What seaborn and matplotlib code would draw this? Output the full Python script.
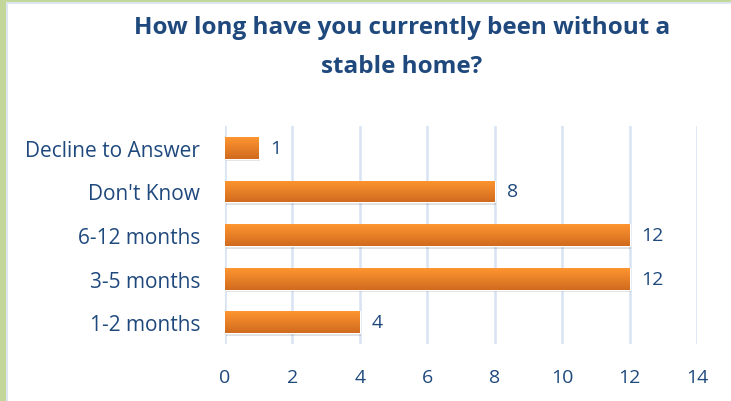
import numpy as np
import pandas as pd
import matplotlib
matplotlib.use("Agg")
import matplotlib.pyplot as plt
import seaborn as sns
from matplotlib.patches import Rectangle
from matplotlib.colors import LinearSegmentedColormap

categories = ["Decline to Answer", "Don't Know", "6-12 months", "3-5 months", "1-2 months"]
values = [1, 8, 12, 12, 4]
xticks = [0, 2, 4, 6, 8, 10, 12, 14]
title = "How long have you currently been without a\nstable home?"

df = pd.DataFrame({"category": categories, "value": values})

sns.set_theme(style="white")
plt.rcParams['font.family'] = ['Open Sans', 'DejaVu Sans']

text_color = "#1F497D"
W, H = 731, 402
fig = plt.figure(figsize=(W / 100, H / 100), dpi=100)
ax = fig.add_axes([225 / W, 1 - 345 / H, 472 / W, 218 / H])

sns.barplot(data=df, x="value", y="category", orient="h", color="#F28A2B",
            width=0.5, ax=ax, zorder=3)

ax.set_xlim(0, 14)
ax.set_xticks(xticks)
ax.set_xticklabels([str(t) for t in xticks])
ax.grid(axis="x", color="#D7E3F2", linewidth=1.8, zorder=0)
ax.set_axisbelow(True)
for s in ax.spines.values():
    s.set_visible(False)
ax.set_xlabel("")
ax.set_ylabel("")
ax.tick_params(axis="x", labelsize=14, colors=text_color, pad=17, length=0)
ax.tick_params(axis="y", labelsize=15, colors=text_color, pad=18, length=0)

# gradient + shadow on bars
cmap = LinearSegmentedColormap.from_list("og", ["#FF9530", "#D06B1F"])
grad = np.linspace(0, 1, 64).reshape(-1, 1)
for p in list(ax.patches):
    x0, y0 = p.get_x(), p.get_y()
    w, h = p.get_width(), p.get_height()
    sh = Rectangle((x0 + 0.03, y0 + 0.06), w, h, facecolor="#000000", alpha=0.12,
                   edgecolor="none", zorder=2)
    ax.add_patch(sh)
    im = ax.imshow(grad, cmap=cmap, aspect="auto", extent=(x0, x0 + w, y0 + h, y0),
                   zorder=4, interpolation="bilinear")
    im.set_clip_path(p)
    ax.text(x0 + w + 0.35, y0 + h / 2, str(int(w)), va="center", ha="left",
            fontsize=14, color=text_color, zorder=5)
ax.set_ylim(4.5, -0.5)
ax.set_xlim(0, 14)

fig.text(402 / W, 1 - 16 / H, title, ha="center", va="top", fontsize=17.5,
         fontweight="bold", color=text_color, linespacing=1.85)

# border: green at left and top, thin light blue inner line
green = "#C4D79B"
fig.patches.append(Rectangle((0, 0), 6 / W, 1, transform=fig.transFigure,
                             facecolor=green, edgecolor="none", zorder=10))
fig.patches.append(Rectangle((0, 1 - 3 / H), 1, 3 / H, transform=fig.transFigure,
                             facecolor=green, edgecolor="none", zorder=10))
fig.patches.append(Rectangle((6 / W, 0), 1.5 / W, 1 - 3 / H, transform=fig.transFigure,
                             facecolor="#DCE6F1", edgecolor="none", zorder=10))
fig.patches.append(Rectangle((6 / W, 1 - 4.5 / H), 1 - 6 / W, 1.5 / H,
                             transform=fig.transFigure,
                             facecolor="#DCE6F1", edgecolor="none", zorder=10))

fig.savefig("out.png", dpi=100)
